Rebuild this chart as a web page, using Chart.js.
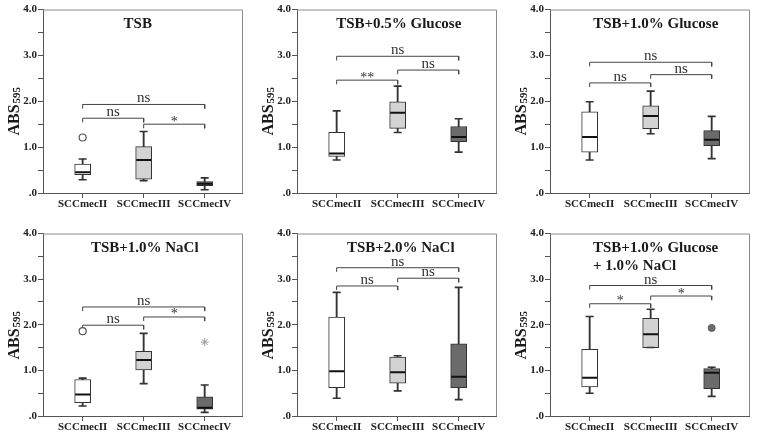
<!DOCTYPE html>
<html>
<head>
<meta charset="utf-8">
<script src="https://cdn.jsdelivr.net/npm/chart.js@4.4.1/dist/chart.umd.min.js"></script>
<style>
  html, body { margin: 0; padding: 0; background: #fff; }
  #wrap { position: relative; width: 760px; height: 441px; overflow: hidden; }
  canvas { position: absolute; }
</style>
</head>
<body>
<div id="wrap">
  <canvas id="p1" width="252" height="218" style="left:0px;top:0px"></canvas>
  <canvas id="p2" width="252" height="218" style="left:254px;top:0px"></canvas>
  <canvas id="p3" width="252" height="218" style="left:507px;top:0px"></canvas>
  <canvas id="p4" width="252" height="217" style="left:0px;top:224px"></canvas>
  <canvas id="p5" width="252" height="217" style="left:254px;top:224px"></canvas>
  <canvas id="p6" width="252" height="217" style="left:507px;top:224px"></canvas>
</div>
<script>
// groups on the x axis and y tick labels
const groups = ['SCCmecII', 'SCCmecIII', 'SCCmecIV'];
const yTickLabels = ['.0', '1.0', '2.0', '3.0', '4.0'];

// box stats per group: [min, q1, median, q3, max]
const tsbStats = [[0.29, 0.40, 0.45, 0.63, 0.74], [0.27, 0.30, 0.72, 1.01, 1.34], [0.07, 0.16, 0.20, 0.25, 0.33]];
const glu05Stats = [[0.72, 0.80, 0.86, 1.32, 1.79], [1.32, 1.41, 1.75, 1.99, 2.33], [0.89, 1.12, 1.22, 1.45, 1.62]];
const glu10Stats = [[0.72, 0.89, 1.22, 1.77, 1.99], [1.29, 1.40, 1.68, 1.90, 2.22], [0.75, 1.03, 1.16, 1.36, 1.67]];
const nacl10Stats = [[0.22, 0.29, 0.47, 0.80, 0.83], [0.71, 1.01, 1.23, 1.42, 1.81], [0.08, 0.15, 0.18, 0.42, 0.68]];
const nacl20Stats = [[0.39, 0.62, 0.98, 2.17, 2.71], [0.55, 0.72, 0.96, 1.29, 1.32], [0.36, 0.62, 0.86, 1.58, 2.82]];
const gluNaclStats = [[0.50, 0.64, 0.84, 1.46, 2.18], [1.50, 1.50, 1.79, 2.14, 2.34], [0.43, 0.60, 0.95, 1.04, 1.07]];

// outliers: [group, value, kind]
const tsbOutliers = [[1, 1.21, 'open']];
const nacl10Outliers = [[1, 1.86, 'open'], [3, 1.62, 'star']];
const gluNaclOutliers = [[3, 1.93, 'filled']];

// significance brackets: [from group, to group, height, label]
const tsbBrackets = [[1, 3, 1.93, 'ns'], [1, 2, 1.63, 'ns'], [2, 3, 1.50, '*']];
const glu05Brackets = [[1, 3, 2.98, 'ns'], [1, 2, 2.46, '**'], [2, 3, 2.68, 'ns']];
const glu10Brackets = [[1, 3, 2.85, 'ns'], [1, 2, 2.40, 'ns'], [2, 3, 2.58, 'ns']];
const nacl10Brackets = [[1, 3, 2.39, 'ns'], [1, 2, 1.99, 'ns'], [2, 3, 2.17, '*']];
const nacl20Brackets = [[1, 3, 3.25, 'ns'], [1, 2, 2.85, 'ns'], [2, 3, 3.02, 'ns']];
const gluNaclBrackets = [[1, 3, 2.86, 'ns'], [1, 2, 2.46, '*'], [2, 3, 2.63, '*']];

const SERIF = '"Liberation Serif", "Times New Roman", serif';
Chart.defaults.font.family = SERIF;

const boxFill = ['#ffffff', '#d3d3d3', '#6b6b6b'];
const outlierStyle = {
  open: { pointStyle: 'circle', pointRadius: 3.5, backgroundColor: '#fff', borderColor: '#555', borderWidth: 1.2 },
  star: { pointStyle: 'star', pointRadius: 4, backgroundColor: '#999', borderColor: '#999', borderWidth: 1 },
  filled: { pointStyle: 'circle', pointRadius: 3.5, backgroundColor: '#6e6e6e', borderColor: '#555', borderWidth: 1 }
};

// frame, titles, bracket labels, y title
const panelText = {
  id: 'panelText',
  beforeDatasetsDraw(chart) {
    const { ctx, chartArea: a } = chart;
    ctx.save();
    ctx.strokeStyle = '#8c8c8c';
    ctx.lineWidth = 1;
    ctx.beginPath();
    ctx.moveTo(a.left, a.top + 0.5);
    ctx.lineTo(Math.round(a.right) - 0.5, a.top + 0.5);
    ctx.lineTo(Math.round(a.right) - 0.5, a.bottom);
    ctx.stroke();
    ctx.restore();
  },
  afterDatasetsDraw(chart, args, opts) {
    const { ctx, chartArea: a, scales: { x, y } } = chart;
    ctx.save();
    ctx.fillStyle = '#1a1a1a';
    ctx.textBaseline = 'alphabetic';

    // panel title
    ctx.font = 'bold 15px ' + SERIF;
    ctx.textAlign = opts.align;
    const tx = opts.align === 'left' ? a.left + opts.titleX : (a.left + a.right) / 2 + opts.titleX;
    opts.title.forEach((line, i) => ctx.fillText(line, tx, a.top + 18 + i * 18));

    // bracket labels
    ctx.textAlign = 'center';
    ctx.fillStyle = '#333';
    opts.brackets.forEach(([g1, g2, h, label]) => {
      const px = x.getPixelForValue((g1 + g2) / 2);
      const py = y.getPixelForValue(h);
      if (label.includes('*')) {
        ctx.font = '14px ' + SERIF;
        ctx.fillText(label, px, py + 1.5);
      } else {
        ctx.font = '15px ' + SERIF;
        ctx.fillText(label, px, py - 2);
      }
    });

    // y axis title ABS595
    ctx.fillStyle = '#1a1a1a';
    ctx.translate(19, a.top + 126);
    ctx.rotate(-Math.PI / 2);
    ctx.textAlign = 'left';
    ctx.font = 'bold 16px ' + SERIF;
    ctx.fillText('ABS', 0, 0);
    const w = ctx.measureText('ABS').width;
    ctx.font = 'bold 11px ' + SERIF;
    ctx.fillText('595', w + 1, 1);
    ctx.restore();
  }
};

function makeChart(id, stats, outliers, brackets, title, align, titleX) {
  const datasets = [
    // whiskers
    { type: 'bar', order: 6, grouped: false, barThickness: 1.2, backgroundColor: '#333',
      data: stats.map((s, i) => ({ x: i + 1, y: [s[0], s[4]] })) },
    // boxes
    { type: 'bar', order: 5, grouped: false, barThickness: 16, backgroundColor: boxFill,
      borderColor: '#333', borderWidth: 1, borderSkipped: false,
      data: stats.map((s, i) => ({ x: i + 1, y: [s[1], s[3]] })) },
    // whisker caps
    { type: 'scatter', order: 4, pointStyle: 'line', pointRadius: 4, borderColor: '#333', borderWidth: 1.6,
      data: stats.flatMap((s, i) => [{ x: i + 1, y: s[0] }, { x: i + 1, y: s[4] }]) },
    // medians
    { type: 'scatter', order: 3, pointStyle: 'line', pointRadius: 7.5, borderColor: '#111', borderWidth: 2,
      data: stats.map((s, i) => ({ x: i + 1, y: s[2] })) }
  ];

  const drop = 0.09;
  brackets.forEach(([g1, g2, h]) => {
    datasets.push({ type: 'line', order: 1, borderColor: '#444', borderWidth: 1, pointRadius: 0, tension: 0, fill: false,
      data: [{ x: g1, y: h - drop }, { x: g1, y: h }, { x: g2, y: h }, { x: g2, y: h - drop }] });
  });

  outliers.forEach(([g, v, kind]) => {
    datasets.push(Object.assign({ type: 'scatter', order: 0, data: [{ x: g, y: v }] }, outlierStyle[kind]));
  });

  const tickFont = { family: SERIF, size: 11, weight: 'bold' };

  new Chart(document.getElementById(id), {
    type: 'bar',
    data: { datasets },
    options: {
      responsive: false,
      animation: false,
      events: [],
      layout: { padding: { top: 8, right: 6, left: 0, bottom: 0 } },
      plugins: {
        legend: { display: false },
        tooltip: { enabled: false },
        panelText: { title, align, titleX, brackets }
      },
      scales: {
        x: {
          type: 'linear', min: 0.35, max: 3.62, offset: false,
          afterBuildTicks: axis => { axis.ticks = groups.map((g, i) => ({ value: i + 1 })); },
          afterFit: axis => { axis.height = 25; },
          border: { color: '#555', width: 1 },
          grid: { drawOnChartArea: false, offset: false, tickLength: 5, tickColor: '#555' },
          ticks: { autoSkip: false, maxRotation: 0, padding: 0, color: '#222', font: tickFont,
            callback: v => groups[v - 1] }
        },
        y: {
          min: 0, max: 4,
          afterFit: axis => { axis.width = 43; },
          border: { color: '#555', width: 1 },
          grid: { drawOnChartArea: false, tickLength: 5, tickColor: '#555' },
          ticks: { stepSize: 0.5, autoSkip: false, padding: 1, color: '#222', font: tickFont,
            callback: v => Number.isInteger(v) ? yTickLabels[v] : '' }
        }
      }
    },
    plugins: [panelText]
  });
}

makeChart('p1', tsbStats, tsbOutliers, tsbBrackets, ['TSB'], 'center', -5);
makeChart('p2', glu05Stats, [], glu05Brackets, ['TSB+0.5% Glucose'], 'center', 2);
makeChart('p3', glu10Stats, [], glu10Brackets, ['TSB+1.0% Glucose'], 'center', 6);
makeChart('p4', nacl10Stats, nacl10Outliers, nacl10Brackets, ['TSB+1.0% NaCl'], 'center', 2);
makeChart('p5', nacl20Stats, [], nacl20Brackets, ['TSB+2.0% NaCl'], 'center', 4);
makeChart('p6', gluNaclStats, gluNaclOutliers, gluNaclBrackets, ['TSB+1.0% Glucose', '+ 1.0% NaCl'], 'left', 43);
</script>
</body>
</html>
